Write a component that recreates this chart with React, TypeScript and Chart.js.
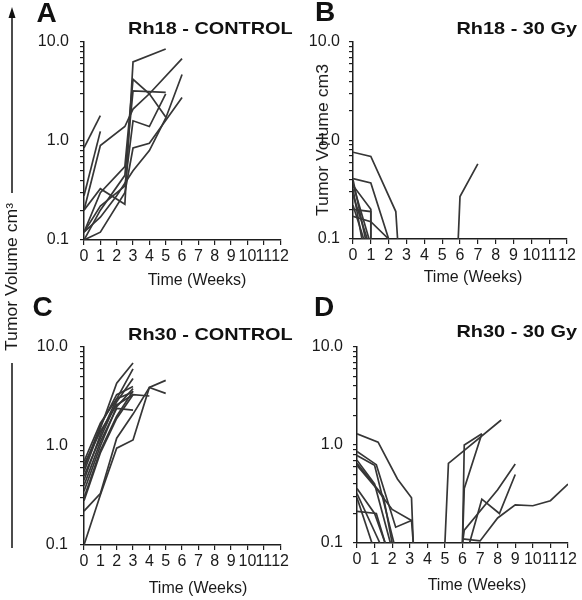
import React, { useEffect, useRef } from 'react';
import { Chart, registerables } from 'chart.js';

Chart.register(...registerables);

// ---------- data ----------
const yTickValues = [0.1, 0.2, 0.3, 0.4, 0.5, 0.6, 0.7, 0.8, 0.9, 1, 2, 3, 4, 5, 6, 7, 8, 9, 10];
const majorTickValues = [0.1, 1, 10];
const majorTickLabels = ['0.1', '1.0', '10.0'];
const xMin = 0;
const xMax = 12;
const xAxisTitle = 'Time (Weeks)';

// Panel A: Rh18 - CONTROL
const rh18ControlWeeks = [
  [0, 1],
  [0, 1],
  [0, 1, 2.5, 3, 4, 6],
  [0, 1, 2.5, 3, 5],
  [0, 1, 2.5, 3, 4, 5],
  [0, 1, 2.5, 3, 5],
  [0, 1, 2.5, 3, 4, 5],
  [0, 1, 2.5, 3, 4, 6],
  [0, 1, 2, 3, 4, 5, 6],
];
const rh18ControlVolumes = [
  [0.85, 1.8],
  [0.28, 1.25],
  [0.2, 0.9, 1.4, 2.1, 3.0, 6.8],
  [0.2, 0.33, 0.23, 6.3, 8.5],
  [0.12, 0.3, 0.55, 4.2, 3.0, 1.75],
  [0.1, 0.2, 0.45, 3.2, 3.1],
  [0.12, 0.22, 0.35, 1.6, 1.4, 3.0],
  [0.1, 0.12, 0.3, 0.85, 0.95, 2.75],
  [0.12, 0.17, 0.28, 0.5, 0.8, 1.7, 4.7],
];

// Panel B: Rh18 - 30 Gy
const rh18IrradWeeks = [
  [0, 1, 2.4, 2.5],
  [0, 1, 2],
  [0, 1, 1],
  [0, 1, 2],
  [0, 1, 1],
  [0, 0.5],
  [0, 0.7],
  [0, 0.8],
  [0, 0.6],
  [0, 0.9],
  [5.9, 6, 7],
];
const rh18IrradVolumes = [
  [0.76, 0.69, 0.19, 0.1],
  [0.41, 0.37, 0.1],
  [0.35, 0.2, 0.1],
  [0.17, 0.15, 0.1],
  [0.2, 0.19, 0.1],
  [0.32, 0.1],
  [0.4, 0.1],
  [0.28, 0.1],
  [0.22, 0.1],
  [0.36, 0.1],
  [0.1, 0.27, 0.58],
];

// Panel C: Rh30 - CONTROL
const rh30ControlWeeks = [
  [0, 1, 2, 3],
  [0, 1, 2, 3],
  [0, 1, 2, 3],
  [0, 1, 2, 3],
  [0, 1, 2, 3],
  [0, 1, 2, 3, 4],
  [0, 1, 2, 3],
  [0, 1, 2, 3, 4, 5],
  [0, 1, 2, 3, 4, 5],
  [0, 1, 2, 3],
  [0, 1, 2, 3],
  [0, 1, 2, 3],
];
const rh30ControlVolumes = [
  [0.55, 1.5, 4.3, 6.9],
  [0.45, 1.3, 3.0, 6.0],
  [0.5, 1.2, 2.8, 4.8],
  [0.35, 1.0, 2.5, 3.8],
  [0.3, 0.9, 2.0, 3.6],
  [0.28, 0.85, 1.9, 3.3, 3.2],
  [0.4, 1.1, 2.4, 2.3],
  [0.22, 0.33, 1.2, 2.1, 3.9, 3.4],
  [0.1, 0.32, 0.95, 1.15, 3.9, 4.6],
  [0.6, 1.6, 3.3, 4.0],
  [0.7, 1.7, 3.0, 3.5],
  [0.65, 1.4, 2.6, 3.3],
];

// Panel D: Rh30 - 30 Gy
const rh30IrradWeeks = [
  [0, 1.2, 2.3, 3.1, 3.2],
  [0, 1.1, 2.2, 3.1, 3.2],
  [0, 1, 2.1],
  [0, 1, 2, 3.1],
  [0, 1, 1.9],
  [0, 1, 1.6],
  [0, 1.1, 1.6],
  [0, 0.85],
  [0, 1.3],
  [0, 1.5, 2],
  [5, 5.2, 6, 8.2],
  [6, 6.1, 7.1],
  [6, 6.1, 7.1],
  [6, 6.1, 8, 9],
  [6.4, 7.1, 8.1, 9],
  [6, 7, 8, 9, 10, 11, 12],
];
const rh30IrradVolumes = [
  [1.3, 1.07, 0.45, 0.29, 0.1],
  [0.86, 0.63, 0.145, 0.17, 0.1],
  [0.78, 0.62, 0.1],
  [0.62, 0.38, 0.22, 0.17],
  [0.7, 0.4, 0.1],
  [0.36, 0.2, 0.1],
  [0.21, 0.2, 0.1],
  [0.29, 0.1],
  [0.32, 0.1],
  [0.65, 0.3, 0.1],
  [0.1, 0.65, 0.85, 1.8],
  [0.1, 1.0, 1.3],
  [0.1, 0.36, 1.3],
  [0.1, 0.135, 0.35, 0.64],
  [0.1, 0.28, 0.2, 0.5],
  [0.11, 0.105, 0.18, 0.245, 0.24, 0.27, 0.4],
];

// ---------- styles ----------
const FONT = "'Liberation Sans', Arial, Helvetica, sans-serif";
const LINE_COLOR = '#363636';
const AXIS_COLOR = '#1e1e1e';
const TEXT_COLOR = '#1a1a1a';

type Geom = {
  left: number;
  top: number;
  width: number;
  height: number;
  padTop: number;
  padRight: number;
  yAxisWidth: number;
  xAxisHeight: number;
  yTickPad: number;
};

function Panel({ weeks, volumes, geom }: { weeks: number[][]; volumes: number[][]; geom: Geom }) {
  const ref = useRef<HTMLCanvasElement>(null);
  useEffect(() => {
    if (!ref.current) return;
    const chart = new Chart(ref.current, {
      type: 'line',
      data: {
        datasets: weeks.map((w, i) => ({
          data: w.map((x, j) => ({ x, y: volumes[i][j] })),
          borderColor: LINE_COLOR,
          borderWidth: 1.7,
          pointRadius: 0,
          tension: 0,
          fill: false,
        })),
      },
      options: {
        animation: false,
        responsive: false,
        maintainAspectRatio: false,
        events: [],
        layout: { padding: { top: geom.padTop, right: geom.padRight, bottom: 0, left: 0 } },
        plugins: {
          legend: { display: false },
          tooltip: { enabled: false },
          title: { display: false },
        },
        scales: {
          x: {
            type: 'linear',
            min: xMin,
            max: xMax,
            afterFit: (s: any) => {
              s.height = geom.xAxisHeight;
            },
            ticks: {
              stepSize: 1,
              autoSkip: false,
              maxRotation: 0,
              minRotation: 0,
              padding: 2,
              color: TEXT_COLOR,
              font: { family: FONT, size: 16 },
            },
            grid: {
              drawOnChartArea: false,
              drawTicks: true,
              tickLength: 5,
              color: AXIS_COLOR,
              lineWidth: 1.2,
            },
            border: { display: true, color: AXIS_COLOR, width: 1.5 },
          },
          y: {
            type: 'logarithmic',
            min: 0.1,
            max: 10,
            afterFit: (s: any) => {
              s.width = geom.yAxisWidth;
            },
            afterBuildTicks: (s: any) => {
              s.ticks = yTickValues.map((v) => ({ value: v, major: majorTickValues.includes(v) }));
            },
            ticks: {
              autoSkip: false,
              padding: geom.yTickPad,
              color: TEXT_COLOR,
              font: { family: FONT, size: 16 },
              callback: (v: any) => {
                const i = majorTickValues.indexOf(Number(v));
                return i >= 0 ? majorTickLabels[i] : '';
              },
            },
            grid: {
              drawOnChartArea: false,
              drawTicks: true,
              tickLength: 4,
              color: AXIS_COLOR,
              lineWidth: 1.2,
            },
            border: { display: true, color: AXIS_COLOR, width: 1.5 },
          },
        },
      },
    } as any);
    return () => chart.destroy();
  }, []);
  return (
    <canvas
      ref={ref}
      width={geom.width}
      height={geom.height}
      style={{ position: 'absolute', left: geom.left, top: geom.top, width: geom.width, height: geom.height }}
    />
  );
}

const geomA: Geom = { left: 0, top: 0, width: 291, height: 300, padTop: 42, padRight: 8, yAxisWidth: 84, xAxisHeight: 60, yTickPad: 11 };
const geomB: Geom = { left: 291, top: 0, width: 291, height: 300, padTop: 42, padRight: 15, yAxisWidth: 62, xAxisHeight: 61, yTickPad: 9 };
const geomC: Geom = { left: 0, top: 300, width: 291, height: 300, padTop: 47, padRight: 8, yAxisWidth: 84, xAxisHeight: 55, yTickPad: 12 };
const geomD: Geom = { left: 291, top: 300, width: 291, height: 300, padTop: 47, padRight: 14, yAxisWidth: 66, xAxisHeight: 57, yTickPad: 10 };

function Letter({ text, x, y }: { text: string; x: number; y: number }) {
  return (
    <div
      style={{
        position: 'absolute',
        left: x,
        top: y,
        transform: 'translate(-50%, -50%)',
        font: `bold 28px ${FONT}`,
        lineHeight: '28px',
        color: '#111',
        whiteSpace: 'nowrap',
      }}
    >
      {text}
    </div>
  );
}

function PanelTitle({ text, right, y }: { text: string; right: number; y: number }) {
  return (
    <div
      style={{
        position: 'absolute',
        right: 582 - right,
        top: y - 8.5,
        font: `bold 17px ${FONT}`,
        lineHeight: '17px',
        color: '#111',
        whiteSpace: 'nowrap',
        transform: 'scaleX(1.17)',
        transformOrigin: 'right center',
      }}
    >
      {text}
    </div>
  );
}

function AxisTitle({ text, x, y }: { text: string; x: number; y: number }) {
  return (
    <div
      style={{
        position: 'absolute',
        left: x,
        top: y,
        transform: 'translate(-50%, -50%)',
        font: `16px ${FONT}`,
        lineHeight: '16px',
        color: TEXT_COLOR,
        whiteSpace: 'nowrap',
      }}
    >
      {text}
    </div>
  );
}

function VerticalText({ text, x, y, scale }: { text: string; x: number; y: number; scale: number }) {
  return (
    <div
      style={{
        position: 'absolute',
        left: x,
        top: y,
        transform: `translate(-50%, -50%) rotate(-90deg) scaleX(${scale})`,
        font: `16px ${FONT}`,
        lineHeight: '16px',
        color: TEXT_COLOR,
        whiteSpace: 'nowrap',
      }}
    >
      {text}
    </div>
  );
}

export default function App() {
  return (
    <div
      style={{
        position: 'absolute',
        left: 0,
        top: 0,
        width: 582,
        height: 600,
        background: '#ffffff',
        overflow: 'hidden',
      }}
    >
      <Panel weeks={rh18ControlWeeks} volumes={rh18ControlVolumes} geom={geomA} />
      <Panel weeks={rh18IrradWeeks} volumes={rh18IrradVolumes} geom={geomB} />
      <Panel weeks={rh30ControlWeeks} volumes={rh30ControlVolumes} geom={geomC} />
      <Panel weeks={rh30IrradWeeks} volumes={rh30IrradVolumes} geom={geomD} />

      <AxisTitle text={xAxisTitle} x={197} y={280} />
      <AxisTitle text={xAxisTitle} x={473} y={277} />
      <AxisTitle text={xAxisTitle} x={198} y={588} />
      <AxisTitle text={xAxisTitle} x={477} y={585} />

      <Letter text="A" x={46.5} y={13} />
      <Letter text="B" x={325} y={12} />
      <Letter text="C" x={42.5} y={307} />
      <Letter text="D" x={324} y={307} />

      <PanelTitle text="Rh18 - CONTROL" right={293} y={28} />
      <PanelTitle text="Rh18 - 30 Gy" right={577} y={28} />
      <PanelTitle text="Rh30 - CONTROL" right={293} y={334} />
      <PanelTitle text="Rh30 - 30 Gy" right={577} y={331} />

      <VerticalText text="Tumor Volume cm3" x={323} y={140} scale={1.1} />
      <VerticalText text="Tumor Volume cm³" x={12} y={277} scale={1.1} />

      <svg width={30} height={600} style={{ position: 'absolute', left: 0, top: 0 }}>
        <line x1={12} y1={17} x2={12} y2={193} stroke="#111" strokeWidth={1.5} />
        <polygon points="12,7 8.5,18 15.5,18" fill="#111" />
        <line x1={12} y1={363} x2={12} y2={548} stroke="#111" strokeWidth={1.5} />
      </svg>
    </div>
  );
}
